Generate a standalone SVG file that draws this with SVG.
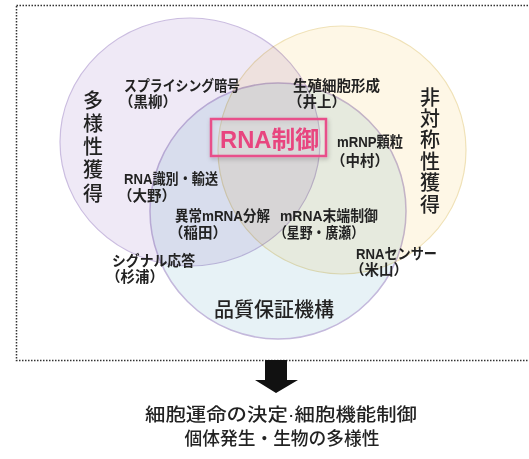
<svg xmlns="http://www.w3.org/2000/svg" width="529" height="459" viewBox="0 0 529 459">
<defs>
<style>
.lbl{font-family:"Liberation Sans","Noto Sans CJK JP",sans-serif;font-size:14.5px;font-weight:bold;fill:#222}
.big{font-family:"Noto Sans CJK JP","Liberation Sans",sans-serif;font-size:20px;font-weight:500;fill:#222}
.out{font-family:"Liberation Sans","Noto Sans CJK JP",sans-serif;font-size:18px;font-weight:500;fill:#222}
.vert{font-family:"Noto Sans CJK JP",sans-serif;font-size:20px;font-weight:500;fill:#222;writing-mode:vertical-rl}
.circ{mix-blend-mode:multiply}
</style>
<filter id="sh" x="-20%" y="-30%" width="140%" height="160%">
<feDropShadow dx="1" dy="2" stdDeviation="2" flood-color="#000" flood-opacity="0.25"/>
</filter>
</defs>
<rect width="529" height="459" fill="#fff"/>
<rect x="16.5" y="5.5" width="540" height="355" fill="none" stroke="#333" stroke-width="1.5" stroke-dasharray="1.5 1.5"/>
<g style="isolation:isolate">
<ellipse id="purple" class="circ" cx="190" cy="142" rx="130" ry="124" fill="#efe9f6" stroke="#cbbde0" stroke-width="1.2"/>
<circle id="yellow" class="circ" cx="342" cy="150" r="124" fill="#fef7e6" stroke="#f0e2b8" stroke-width="1.2"/>
<circle id="blue" class="circ" cx="278" cy="211" r="128" fill="#e7f2f6" stroke="#c4b9dc" stroke-width="1.5"/>
</g>
<g id="diversity">
<text class="vert" x="93" y="90" letter-spacing="3.3">多様性獲得</text>
</g>
<g id="asymmetry">
<text class="vert" x="430" y="87" letter-spacing="1.4">非対称性獲得</text>
</g>
<g id="quality">
<text class="big" x="274" y="317" text-anchor="middle">品質保証機構</text>
</g>
<g id="rna-control">
<rect x="211" y="119" width="115" height="37" fill="#fff" fill-opacity="0.12" stroke="#e8508a" stroke-width="2.5" filter="url(#sh)"/>
<text x="269.5" y="148" text-anchor="middle" font-family="Liberation Sans,Noto Sans CJK JP,sans-serif" font-size="24" font-weight="bold" fill="#e8457f" textLength="99" lengthAdjust="spacingAndGlyphs">RNA制御</text>
</g>
<g id="splicing">
<text class="lbl" x="124" y="91" textLength="116" lengthAdjust="spacingAndGlyphs">スプライシング暗号</text>
<text class="lbl" x="119" y="107">（黒柳）</text>
</g>
<g id="germ-cell">
<text class="lbl" x="293" y="91" textLength="87" lengthAdjust="spacingAndGlyphs">生殖細胞形成</text>
<text class="lbl" x="288" y="107">（井上）</text>
</g>
<g id="mrnp">
<text class="lbl" x="337" y="147" textLength="66" lengthAdjust="spacingAndGlyphs">mRNP顆粒</text>
<text class="lbl" x="331" y="166">（中村）</text>
</g>
<g id="rna-transport">
<text class="lbl" x="124" y="184" textLength="94" lengthAdjust="spacingAndGlyphs">RNA識別・輸送</text>
<text class="lbl" x="118" y="201">（大野）</text>
</g>
<g id="decay">
<text class="lbl" x="175" y="221" textLength="95" lengthAdjust="spacingAndGlyphs">異常mRNA分解</text>
<text class="lbl" x="169" y="238">（稲田）</text>
</g>
<g id="end-control">
<text class="lbl" x="280" y="221" textLength="98" lengthAdjust="spacingAndGlyphs">mRNA末端制御</text>
<text class="lbl" x="274" y="238" textLength="90" lengthAdjust="spacingAndGlyphs">（星野・廣瀬）</text>
</g>
<g id="signal">
<text class="lbl" x="112" y="266" textLength="83" lengthAdjust="spacingAndGlyphs">シグナル応答</text>
<text class="lbl" x="106" y="282">（杉浦）</text>
</g>
<g id="sensor">
<text class="lbl" x="356" y="259" textLength="81" lengthAdjust="spacingAndGlyphs">RNAセンサー</text>
<text class="lbl" x="350" y="275">（米山）</text>
</g>
<g id="connectors">
<polygon points="265,360 287,360 287,380 298,380 276,393 255,380 265,380" fill="#111"/>
</g>
<g id="outcome">
<text class="out" x="281" y="421" text-anchor="middle" textLength="272" lengthAdjust="spacingAndGlyphs">細胞運命の決定·細胞機能制御</text>
<text class="out" x="282" y="445" text-anchor="middle" textLength="195" lengthAdjust="spacingAndGlyphs">個体発生・生物の多様性</text>
</g>
</svg>
